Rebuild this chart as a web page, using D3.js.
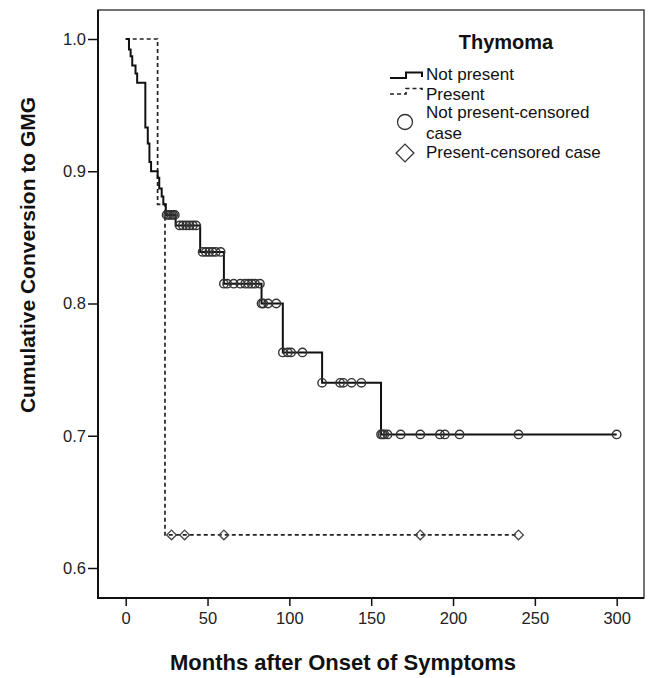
<!DOCTYPE html>
<html>
<head>
<meta charset="utf-8">
<script src="https://cdn.jsdelivr.net/npm/d3@7"></script>
<style>
    body { margin: 0; background: #fff; }
    text { font-family: "Liberation Sans", Arial, sans-serif; fill: #111; }
</style>
</head>
<body>
<script>
// Kaplan-Meier steps: time (months) and value after the drop
var notPresentTime = [0, 2, 3, 4, 6, 7, 12, 13.5, 14.5, 15.5, 19.5, 20.5, 22, 23, 24.5, 30.5, 45.5, 60, 83, 96, 120, 156];
var notPresentSurv = [1.0, 0.992, 0.987, 0.980, 0.974, 0.967, 0.933, 0.921, 0.907, 0.900, 0.895, 0.887, 0.881, 0.875, 0.867, 0.859, 0.839, 0.815, 0.800, 0.763, 0.740, 0.701];
var notPresentEnd = 300;
var notPresentCensored = [25, 26, 27, 28, 29, 30,
    33, 35, 37, 39, 41, 43,
    47, 49, 51, 53, 55, 58,
    60, 62, 66, 70, 73, 75, 77, 79, 82,
    83, 84, 87, 92,
    96, 99, 101, 108,
    120, 131, 133, 138, 144,
    156, 157, 158, 160, 168, 180, 192, 195, 204, 240, 300];

var presentTime = [0, 19.5, 24];
var presentSurv = [1.0, 0.875, 0.625];
var presentEnd = 240;
var presentCensored = [28, 36, 60, 180, 240];

var xTicks = [0, 50, 100, 150, 200, 250, 300];
var yTicks = [0.6, 0.7, 0.8, 0.9, 1.0];

window.onload = function(){
    var w = 650, h = 678;

    var svg = d3.select("body")
        .append("svg")
        .attr("width", w)
        .attr("height", h);

    var x = d3.scaleLinear()
        .domain([0, 300])
        .range([125.7, 616.7]);

    var y = d3.scaleLinear()
        .domain([0.6, 1.0])
        .range([568, 39]);

    // frame
    svg.append("rect")
        .attr("x", 98)
        .attr("y", 10)
        .attr("width", 546)
        .attr("height", 588)
        .style("fill", "none")
        .style("stroke", "#444")
        .style("stroke-width", 1.5);

    // axes
    var yAxis = d3.axisLeft(y)
        .tickValues(yTicks)
        .tickFormat(d3.format(".1f"))
        .tickSize(10)
        .tickPadding(2);

    var yg = svg.append("g")
        .attr("transform", "translate(98,0)")
        .call(yAxis);

    var xAxis = d3.axisBottom(x)
        .tickValues(xTicks)
        .tickSize(8)
        .tickSizeOuter(0)
        .tickPadding(6);

    var xg = svg.append("g")
        .attr("transform", "translate(0,598)")
        .call(xAxis);

    [yg, xg].forEach(function(g){
        g.select(".domain").remove();
        g.selectAll(".tick line").style("stroke", "#111").style("stroke-width", 1.5);
        g.selectAll(".tick text")
            .style("font-family", "'Liberation Sans', Arial, sans-serif")
            .style("font-size", "16.5px")
            .style("fill", "#222");
    });

    svg.append("line")
        .attr("x1", 98).attr("x2", 98)
        .attr("y1", 10).attr("y2", 599)
        .style("stroke", "#111").style("stroke-width", 2);
    svg.append("line")
        .attr("x1", 97).attr("x2", 644)
        .attr("y1", 598).attr("y2", 598)
        .style("stroke", "#111").style("stroke-width", 2);

    // step curves
    var line = d3.line()
        .x(function(d){ return x(d[0]); })
        .y(function(d){ return y(d[1]); })
        .curve(d3.curveStepAfter);

    function steps(times, surv, end){
        var pts = times.map(function(t, i){ return [t, surv[i]]; });
        pts.push([end, surv[surv.length - 1]]);
        return pts;
    }

    function survAt(times, surv, t){
        var i = d3.bisectRight(times, t) - 1;
        return surv[Math.max(0, i)];
    }

    svg.append("path")
        .attr("d", line(steps(presentTime, presentSurv, presentEnd)))
        .style("fill", "none")
        .style("stroke", "#222")
        .style("stroke-width", 1.7)
        .style("stroke-dasharray", "4,3");

    svg.append("path")
        .attr("d", line(steps(notPresentTime, notPresentSurv, notPresentEnd)))
        .style("fill", "none")
        .style("stroke", "#111")
        .style("stroke-width", 2);

    // censored marks
    svg.selectAll(".npc")
        .data(notPresentCensored)
        .enter()
        .append("circle")
        .attr("class", "npc")
        .attr("cx", function(d){ return x(d); })
        .attr("cy", function(d){ return y(survAt(notPresentTime, notPresentSurv, d)); })
        .attr("r", 4.2)
        .style("fill", "none")
        .style("stroke", "#333")
        .style("stroke-width", 1.4);

    var diamond = d3.symbol().type(d3.symbolDiamond2).size(60);
    svg.selectAll(".pc")
        .data(presentCensored)
        .enter()
        .append("path")
        .attr("class", "pc")
        .attr("d", diamond)
        .attr("transform", function(d){
            return "translate(" + x(d) + "," + y(survAt(presentTime, presentSurv, d)) + ")";
        })
        .style("fill", "none")
        .style("stroke", "#444")
        .style("stroke-width", 1.3);

    // axis titles
    svg.append("text")
        .attr("text-anchor", "middle")
        .attr("transform", "translate(35,255) rotate(-90)")
        .style("font-size", "21px")
        .style("font-weight", "bold")
        .text("Cumulative Conversion to GMG");

    svg.append("text")
        .attr("text-anchor", "middle")
        .attr("x", 343)
        .attr("y", 670)
        .style("font-size", "22px")
        .style("font-weight", "bold")
        .text("Months after Onset of Symptoms");

    // legend
    var lg = svg.append("g").attr("class", "legend");

    lg.append("text")
        .attr("x", 506)
        .attr("y", 49)
        .attr("text-anchor", "middle")
        .style("font-size", "20px")
        .style("font-weight", "bold")
        .text("Thymoma");

    lg.append("path")
        .attr("d", "M390,78 H406 V72.5 H422 V77")
        .style("fill", "none")
        .style("stroke", "#111")
        .style("stroke-width", 2);

    lg.append("path")
        .attr("d", "M390,94 H406 V88.5 H422 V93")
        .style("fill", "none")
        .style("stroke", "#222")
        .style("stroke-width", 1.7)
        .style("stroke-dasharray", "4,3");

    lg.append("circle")
        .attr("cx", 405)
        .attr("cy", 122)
        .attr("r", 7.5)
        .style("fill", "none")
        .style("stroke", "#333")
        .style("stroke-width", 1.3);

    lg.append("path")
        .attr("d", d3.symbol().type(d3.symbolDiamond2).size(200))
        .attr("transform", "translate(405,153)")
        .style("fill", "none")
        .style("stroke", "#333")
        .style("stroke-width", 1.3);

    var legendText = [
        ["Not present", 80],
        ["Present", 100],
        ["Not present-censored", 118],
        ["case", 138.5],
        ["Present-censored case", 158]
    ];
    lg.selectAll(".ltext")
        .data(legendText)
        .enter()
        .append("text")
        .attr("class", "ltext")
        .attr("x", 426)
        .attr("y", function(d){ return d[1]; })
        .style("font-size", "17px")
        .text(function(d){ return d[0]; });
};
</script>
</body>
</html>
